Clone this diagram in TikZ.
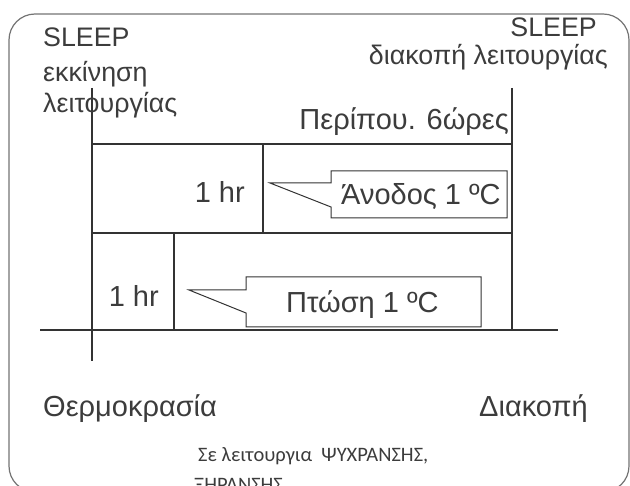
\documentclass[tikz,border=0pt]{standalone}
\usepackage{fontspec}
\setmainfont{Liberation Sans}
\newfontfamily\notefont{Carlito}
\usetikzlibrary{positioning}
\definecolor{linegray}{HTML}{333333}
\definecolor{textgray}{HTML}{3c3c3c}

\begin{document}
\begin{tikzpicture}[x=1pt, y=-1pt,
    axis/.style={line width=2.4pt, draw=linegray},
    callout/.style={line width=1pt, draw=linegray},
    frame/.style={line width=1.2pt, draw=gray!90!black, rounded corners=26pt},
    lbl/.style={inner sep=0pt, text=textgray, font=\fontsize{26.8}{30}\selectfont},
    inlbl/.style={inner sep=0pt, text=textgray, font=\fontsize{29}{33}\selectfont},
    note/.style={inner sep=0pt, text=textgray, font=\notefont\fontsize{20.5}{24}\selectfont}
]
\useasboundingbox (0,0) rectangle (630,486);
\clip (0,0) rectangle (630,486);
\draw[frame] (9,14) rectangle (629,492);

% grid points
\coordinate (ytop) at (92,88);   \coordinate (ybot) at (92,361);
\coordinate (xl)   at (40,330);  \coordinate (xr)   at (558,330);
\coordinate (rtop) at (512,88);  \coordinate (rbot) at (512,330);
\coordinate (h1l)  at (92,144);  \coordinate (h1r)  at (512,144);
\coordinate (h2l)  at (92,233);  \coordinate (h2r)  at (512,233);
\coordinate (v1t)  at (263,144); \coordinate (v1b)  at (263,233);
\coordinate (v2t)  at (174,233); \coordinate (v2b)  at (174,330);

\draw[axis] (ytop) -- (ybot);
\draw[axis] (xl) -- (xr);
\draw[axis] (rtop) -- (rbot);
\draw[axis] (h1l) -- (h1r);
\draw[axis] (h2l) -- (h2r);
\draw[axis] (v1t) -- (v1b);
\draw[axis] (v2t) -- (v2b);

% callouts
\coordinate (tipup) at (270,183);
\draw[callout] (331,183) -- (331,171) -- (507,171) -- (507,218) -- (331,218) -- (331,207) -- (tipup) -- cycle;
\coordinate (tipdn) at (189,290);
\draw[callout] (246,290) -- (246,277) -- (481,277) -- (481,327) -- (246,327) -- (246,313) -- (tipdn) -- cycle;

% labels
\node[lbl, anchor=base west] (slpon)  at (43,47)  {SLEEP};
\node[lbl, anchor=base west] (start1) at (43,82)  {εκκίνηση};
\node[lbl, anchor=base west] (start2) at (43,113) {λειτουργίας};
\node[lbl, anchor=base east] (slpoff) at (597,37) {SLEEP};
\node[lbl, anchor=base east] (stop)   at (608,65) {διακοπή λειτουργίας};
\node[inlbl, anchor=base east] (six)  at (509,130) {Περίπου. 6ώρες};
\node[inlbl, anchor=base east] (hrup) at (245,203) {1 hr};
\node[inlbl, anchor=base west] (rise) at (341,205) {Άνοδος 1 ºC};
\node[inlbl, anchor=base east] (hrdn) at (159,307) {1 hr};
\node[inlbl, anchor=base west] (fall) at (286,313) {Πτώση 1 ºC};
\node[inlbl, anchor=base west] (temp) at (43,417) {Θερμοκρασία};
\node[inlbl, anchor=base east] (halt) at (588,417) {Διακοπή};
\node[note, anchor=base west] (mode1) at (198,462) {Σε λειτουργια\ \ ΨΥΧΡΑΝΣΗΣ,};
\node[note, anchor=base west] (mode2) at (194,492) {ΞΗΡΑΝΣΗΣ};
\end{tikzpicture}
\end{document}
